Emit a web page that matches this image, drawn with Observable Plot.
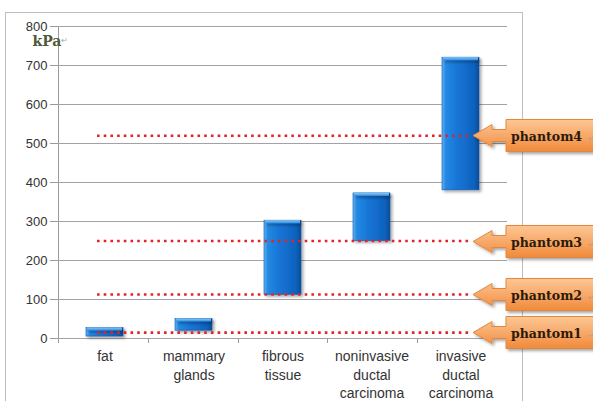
<!DOCTYPE html>
<html><head><meta charset="utf-8">
<script src="https://cdn.jsdelivr.net/npm/d3@7"></script>
<script src="https://cdn.jsdelivr.net/npm/@observablehq/plot@0.6"></script>
<style>body{margin:0;background:#fff;} svg{display:block}</style>
</head><body><div id="chart"></div>
<script>
const categories = ["fat", "mammary glands", "fibrous tissue", "noninvasive ductal carcinoma", "invasive ductal carcinoma"];
const categoryLabels = ["fat", "mammary\nglands", "fibrous\ntissue", "noninvasive\nductal\ncarcinoma", "invasive\nductal\ncarcinoma"];
const lowValues = [5, 20, 112, 250, 380];
const highValues = [27, 50, 302, 372, 720];
const phantomNames = ["phantom1", "phantom2", "phantom3", "phantom4"];
const phantomValues = [15, 113, 250, 520];
const yTicks = [0, 100, 200, 300, 400, 500, 600, 700, 800];
const yUnit = "kPa";

const bars = categories.map((c, i) => ({category: c, label: categoryLabels[i], low: lowValues[i], high: highValues[i]}));
const phantoms = phantomNames.map((n, i) => ({name: n, value: phantomValues[i]}));

// decoration: defs, chart-area border, axis lines, boundary ticks
function backdrop(index, scales, values, dims) {
  const g = d3.create("svg:g");
  const defs = g.append("defs");
  const bg = defs.append("linearGradient").attr("id", "barGrad").attr("x1", 0).attr("x2", 1).attr("y1", 0).attr("y2", 0);
  [["0%", "#63b3f3"], ["10%", "#2489e2"], ["45%", "#1573d4"], ["85%", "#0f63bf"], ["100%", "#0a4b95"]]
    .forEach(([o, c]) => bg.append("stop").attr("offset", o).attr("stop-color", c));
  const cg = defs.append("linearGradient").attr("id", "capGrad").attr("x1", 0).attr("x2", 0).attr("y1", 0).attr("y2", 1);
  [["0%", "#8cc8f8"], ["100%", "#2d8ce4"]].forEach(([o, c]) => cg.append("stop").attr("offset", o).attr("stop-color", c));
  const og = defs.append("linearGradient").attr("id", "callGrad").attr("x1", 0).attr("x2", 0).attr("y1", 0).attr("y2", 1);
  [["0%", "#fcc795"], ["55%", "#f7a665"], ["100%", "#f08a3a"]].forEach(([o, c]) => og.append("stop").attr("offset", o).attr("stop-color", c));
  const sh = defs.append("filter").attr("id", "shadow").attr("x", "-30%").attr("y", "-30%").attr("width", "160%").attr("height", "160%");
  sh.append("feDropShadow").attr("dx", 2).attr("dy", 2).attr("stdDeviation", 1.8).attr("flood-color", "#000").attr("flood-opacity", 0.35);

  const left = dims.marginLeft, right = dims.width - dims.marginRight;
  const top = dims.marginTop, bottom = dims.height - dims.marginBottom;
  // chart area border
  g.append("rect").attr("x", left - 52.5).attr("y", top - 13.5).attr("width", right - left + 68).attr("height", dims.height)
    .attr("fill", "none").attr("stroke", "#bdbdbd");
  // axis lines
  g.append("line").attr("x1", left + 0.5).attr("x2", left + 0.5).attr("y1", top).attr("y2", bottom).attr("stroke", "#9a9a9a");
  const step = (right - left) / categories.length;
  for (let i = 0; i <= categories.length; i++) {
    const x = Math.round(left + i * step) + (i === categories.length ? -0.5 : 0.5);
    g.append("line").attr("x1", x).attr("x2", x).attr("y1", bottom).attr("y2", bottom + 5).attr("stroke", "#9a9a9a");
  }
  return g.node();
}

function callouts(index, scales, values, dims) {
  const g = d3.create("svg:g");
  const xr = dims.width - dims.marginRight;
  const tip = xr - 34;
  for (const p of phantoms) {
    const c = Math.round(scales.y(p.value)) + 0.5;
    const bx = xr - 1, bw = 110;
    const d = `M${tip},${c} L${tip + 19},${c - 11} L${tip + 19},${c - 6} L${bx},${c - 6} L${bx},${c - 16} L${bx + bw},${c - 16} L${bx + bw},${c + 16} L${bx},${c + 16} L${bx},${c + 6} L${tip + 19},${c + 6} L${tip + 19},${c + 11} Z`;
    g.append("path").attr("d", d).attr("fill", "url(#callGrad)").attr("stroke", "#e2873e").attr("stroke-width", 1)
      .attr("filter", "url(#shadow)");
    g.append("text").attr("x", bx + 5).attr("y", c + 5).attr("text-anchor", "start").attr("font-family", "'DejaVu Serif', serif").attr("font-weight", "bold")
      .attr("font-size", 12.5).attr("fill", "#2a1a0a").text(p.name);
    g.append("text").attr("x", bx + 82).attr("y", c + 5).attr("text-anchor", "start").attr("font-family", "'DejaVu Sans', sans-serif")
      .attr("font-size", 7).attr("fill", "#b0a090").text("↵");
  }
  return g.node();
}

const chart = Plot.plot({
  width: 593,
  height: 401,
  marginTop: 26,
  marginBottom: 63,
  marginLeft: 58,
  marginRight: 86,
  style: {fontFamily: "'Liberation Sans', Arial, sans-serif", background: "#fff"},
  x: {domain: categories, paddingInner: 0.58, paddingOuter: 0.29, axis: null},
  y: {domain: [0, 800], axis: null},
  marks: [
    backdrop,
    Plot.ruleY(yTicks, {stroke: "#a3a3a3", strokeWidth: 1}),
    Plot.axisY(yTicks, {tickSize: 8, tickPadding: 3, fontSize: 13, stroke: "#9a9a9a", fill: "#333", tickFormat: d => d}),
    Plot.text([yUnit], {frameAnchor: "top-left", dx: -26, dy: 10, text: d => d, fontFamily: "'DejaVu Serif', serif", fontWeight: "bold", fontSize: 14, fill: "#4d5a3c"}),
    Plot.text(["↵"], {frameAnchor: "top-left", dx: 2, dy: 11, text: d => d, fontSize: 8, fill: "#a8a8a8"}),
    Plot.barY(bars, {x: "category", y1: "low", y2: "high", fill: "url(#barGrad)", stroke: "#0c57a8", strokeWidth: 0.6}),
    Plot.barY(bars, {x: "category", y1: "high", y2: "high", insetBottom: -3, fill: "url(#capGrad)", insetLeft: 1, insetRight: 1}),
    Plot.text(bars, {x: "category", text: "label", frameAnchor: "bottom", lineAnchor: "top", dy: 10, lineHeight: 1.3, fontSize: 14, fill: "#333"}),
    Plot.ruleY(phantoms, {y: "value", stroke: "#e3232a", strokeWidth: 2.6, strokeDasharray: "2.6,4.1", insetLeft: 39, insetRight: 36}),
    callouts
  ]
});
chart.querySelectorAll('g[aria-label="bar"]').forEach(g => g.setAttribute("filter", "url(#shadow)"));
document.getElementById("chart").appendChild(chart);
</script>
</body></html>
